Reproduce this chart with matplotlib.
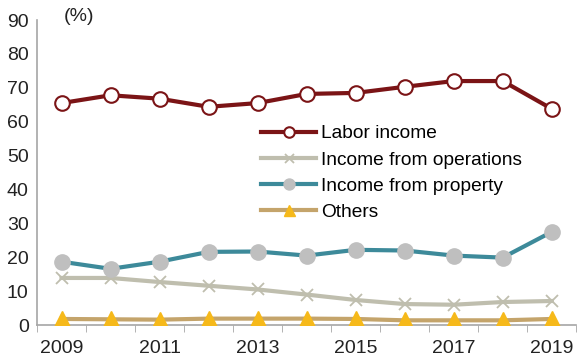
import matplotlib.pyplot as plt
from matplotlib.ticker import FixedLocator

plt.rcParams['font.family'] = ['Liberation Sans', 'DejaVu Sans']

years = [2009, 2010, 2011, 2012, 2013, 2014, 2015, 2016, 2017, 2018, 2019]
labor = [65.5, 67.8, 66.8, 64.4, 65.5, 68.2, 68.5, 70.3, 72.0, 72.0, 63.8]
operations = [13.9, 13.9, 12.7, 11.6, 10.5, 9.0, 7.4, 6.2, 6.0, 6.8, 7.1]
property_inc = [18.7, 16.6, 18.7, 21.6, 21.7, 20.5, 22.2, 22.0, 20.5, 19.9, 27.5]
others = [1.8, 1.7, 1.6, 1.9, 1.9, 1.9, 1.8, 1.4, 1.4, 1.4, 1.8]

x = list(range(len(years)))

fig = plt.figure(figsize=(5.78, 3.58), dpi=100)
ax = fig.add_axes([0.064, 0.092, 0.933, 0.852])

ax.plot(x, labor, color='#7B1416', lw=3, marker='o', ms=10.5,
        mfc='white', mec='#7B1416', mew=1.5, label='Labor income', zorder=4)
ax.plot(x, operations, color='#BFBEAE', lw=3, marker='x', ms=9,
        mec='#BFBEAE', mew=1.3, label='Income from operations', zorder=3)
ax.plot(x, property_inc, color='#3D8A9A', lw=3, marker='o', ms=11,
        mfc='#BFBFBF', mec='#BFBFBF', label='Income from property', zorder=3)
ax.plot(x, others, color='#C4A46B', lw=3, marker='^', ms=11,
        mfc='#F6B91A', mec='#F6B91A', label='Others', zorder=3)

ax.set_xlim(-0.5, 10.5)
ax.set_ylim(0, 90)
ax.set_yticks(range(0, 91, 10))
ax.set_xticks(x[::2])
ax.set_xticklabels([str(y) for y in years[::2]])
ax.xaxis.set_minor_locator(FixedLocator([i - 0.5 for i in range(len(years) + 1)]))
ax.tick_params(axis='x', which='major', length=0, labelsize=14, pad=11, colors='#222222')
ax.tick_params(axis='x', which='minor', length=5, color='#A6A6A6')
ax.tick_params(axis='y', length=0, labelsize=14, pad=6, colors='#222222')

for side in ['top', 'right']:
    ax.spines[side].set_visible(False)
for side in ['left', 'bottom']:
    ax.spines[side].set_color('#A6A6A6')
    ax.spines[side].set_linewidth(1.2)

ax.text(0.05, 1.01, '(%)', transform=ax.transAxes, fontsize=14,
        color='#222222', va='center', ha='left')

leg = ax.legend(loc='upper left', bbox_to_anchor=(0.415, 0.656), frameon=False,
                fontsize=13.8, handlelength=2.9, handletextpad=0.25,
                labelspacing=0.46, borderaxespad=0, borderpad=0,
                markerscale=0.72)

fig.savefig('out.png', dpi=100)
